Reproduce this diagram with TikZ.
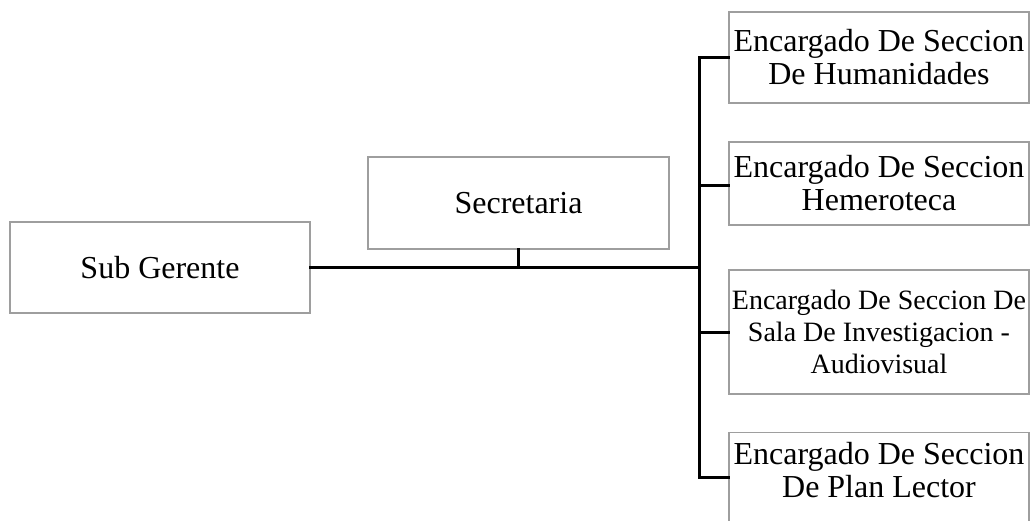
\documentclass[tikz,border=0pt]{standalone}
\usepackage{fontspec}
\setmainfont{Liberation Serif}
\begin{document}
\begin{tikzpicture}[x=1pt,y=-1pt,
  box/.style={draw=black!38,line width=1.3pt,rectangle,inner sep=0pt,align=center,
    font=\fontsize{32}{33}\selectfont},
  smallbox/.style={box,font=\fontsize{28}{32}\selectfont},
  txt/.style={inner sep=0pt,align=center,font=\fontsize{32}{33}\selectfont},
  link/.style={line width=3pt,line cap=rect}]
\clip (0,0) rectangle (1036,521);
\fill[white] (0,0) rectangle (1036,521);

% left part
\node[box,minimum width=300,minimum height=91] (sub) at (160,267.5) {Sub Gerente};
\node[box,minimum width=301,minimum height=92] (sec) at (518.5,203) {Secretaria};

% sections on the right
\node[box,minimum width=300,minimum height=91] (h1) at (879,57.5) {Encargado De Seccion\\De Humanidades};
\node[box,minimum width=300,minimum height=83] (h2) at (879,183.5) {Encargado De Seccion\\Hemeroteca};
\node[smallbox,minimum width=300,minimum height=124] (h3) at (879,332) {Encargado De Seccion De\\Sala De Investigacion -\\Audiovisual};
\node[box,minimum width=300,minimum height=100,anchor=north] (h4) at (879,432) {};
\node[txt] (h4t) at (879,470) {Encargado De Seccion\\De Plan Lector};

% connectors
\coordinate (bus) at (699,267.5);
\coordinate (c4) at ([yshift=-45pt]h4.north west);
\draw[link] (sub.east) -- (sub.east -| bus);
\draw[link] (sec.south) -- (sec.south |- bus);
\draw[link] (bus |- h1.west) -- (bus |- c4);
\draw[link] (bus |- h1.west) -- (h1.west);
\draw[link] ([yshift=-2.5pt]bus |- h2.west) -- ([yshift=-2.5pt]h2.west);
\draw[link] (bus |- h3.west) -- (h3.west);
\draw[link] (bus |- c4) -- (c4);
\end{tikzpicture}
\end{document}
